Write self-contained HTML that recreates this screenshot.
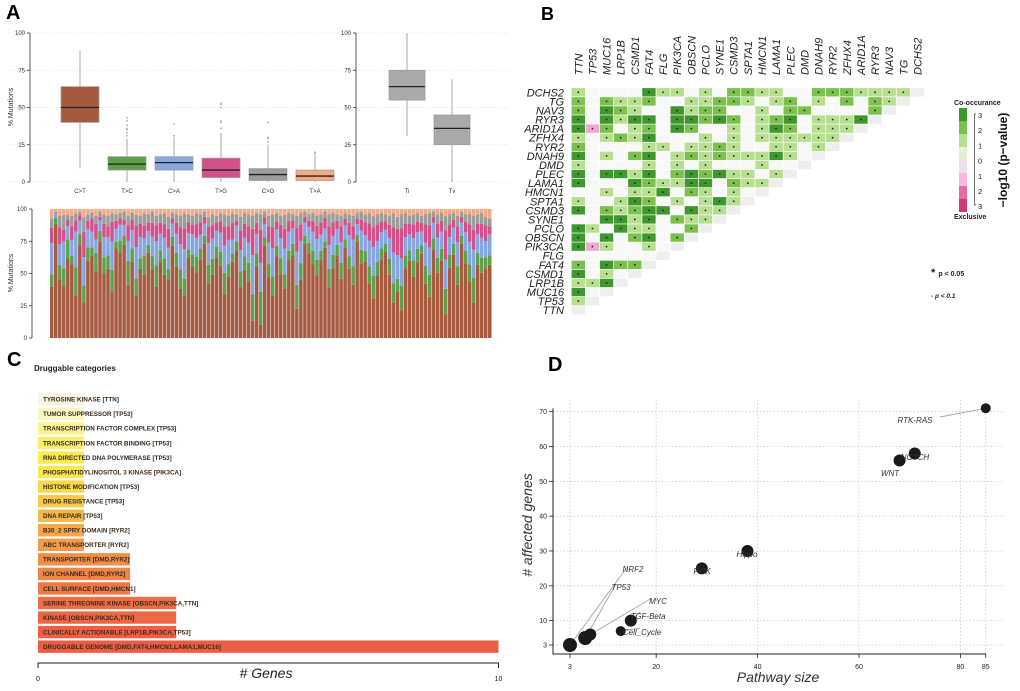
<!DOCTYPE html>
<html><head><meta charset="utf-8">
<style>
html,body{margin:0;padding:0;background:#fff;}
svg{display:block;font-family:"Liberation Sans",sans-serif;}
</style></head>
<body>
<svg id="fig" width="1020" height="691" viewBox="0 0 1020 691" xmlns="http://www.w3.org/2000/svg">
<g id="pA"></g>
<g id="pB"></g>
<g id="pC"></g>
<g id="pD"></g>
</svg>
<script>
// ---------- Panel A data ----------
const boxCats = ["C>T","T>C","C>A","T>G","C>G","T>A"];
const boxLo  = [9,0,0,0,0,0];
const boxQ1  = [40,8,8,3,1,1];
const boxMed = [50,12,13,8,5,4];
const boxQ3  = [64,17,17,16,9,8];
const boxHi  = [88,29,30,33,25,18];
const boxOut = [[],[31,33,35,36,38,41,43],[31,39],[36,40,41,50,52,53],[27,29,30,40],[19,20]];
const tiCats = ["Ti","Tv"];
const tiLo=[31,0], tiQ1=[55,25], tiMed=[64,36], tiQ3=[75,45], tiHi=[100,69];
const ctVals=[33,88,42,35,60,55,30,72,25,58,62,50,75,48,52,33,68,65,70,40,58,30,52,45,62,50,38,55,46,44,70,52,35,28,60,54,48,58,70,40,47,60,52,32,46,55,68,38,50,42,13,52,10,68,45,30,60,48,35,58,64,22,42,70,65,55,48,58,70,38,52,62,45,66,50,40,70,55,58,38,28,45,58,62,48,25,35,20,52,58,44,55,60,42,30,66,48,58,20,55,62,40,70,58,40,25,55,48,52,55];
const tcVals=[8,5,10,12,15,6,20,8,12,10,6,14,8,12,10,15,5,9,7,18,10,12,8,14,6,10,16,9,12,8,7,10,14,12,6,9,11,8,6,14,12,8,10,16,9,6,7,12,10,14,20,9,25,6,10,14,8,12,10,7,9,18,12,6,8,10,12,7,5,14,10,8,12,6,9,14,5,10,8,12,16,10,8,6,12,14,10,18,9,8,12,10,6,14,16,8,11,9,22,10,8,14,6,10,12,18,9,11,8,7];
const caVals=[20,3,15,18,10,12,25,10,20,14,12,10,8,15,14,20,10,12,8,15,14,22,16,12,10,14,18,12,15,16,10,14,18,20,12,15,14,10,9,16,15,12,14,20,18,10,12,16,14,15,30,14,22,10,16,20,12,15,18,14,12,25,16,10,12,14,16,12,10,18,14,12,16,10,15,20,8,14,12,18,20,15,12,10,16,22,18,20,14,12,16,12,10,18,20,12,15,13,25,14,12,18,10,14,16,20,14,15,12,16];
const tgVals=[10,0,12,8,5,10,8,4,18,6,10,12,3,10,8,14,6,5,4,12,8,15,10,9,6,10,12,8,10,14,4,8,12,14,8,7,10,9,5,12,10,6,8,14,10,12,4,15,10,12,20,8,25,5,12,15,6,10,14,8,6,18,12,4,5,8,10,9,8,14,10,6,12,5,9,10,4,8,10,12,14,12,8,6,10,18,20,22,10,8,10,8,6,14,16,4,10,8,25,10,6,12,4,8,12,14,8,10,12,6];
const cgVals=[6,2,8,10,4,8,5,3,10,5,4,6,4,7,8,6,5,4,6,7,5,8,6,9,6,8,7,6,8,9,4,6,8,10,6,7,8,6,4,7,8,5,6,9,8,7,5,10,8,9,10,7,12,4,8,9,6,7,10,6,5,9,8,4,5,6,8,6,5,9,7,5,8,4,6,8,4,6,6,7,8,7,6,5,7,10,9,10,8,6,7,6,5,8,9,4,7,6,12,8,5,8,4,6,8,10,7,8,6,6];
const taVals=[6,2,5,4,4,5,3,2,6,4,3,5,2,4,5,3,4,3,2,5,3,4,5,3,4,2,5,4,3,6,3,4,5,3,4,5,3,4,2,6,4,5,3,4,5,3,4,6,3,4,5,3,4,2,5,4,3,5,4,3,4,5,3,2,4,3,5,4,2,4,3,4,5,3,4,5,3,2,4,3,5,4,3,4,5,3,6,4,3,5,4,3,5,4,3,2,4,3,6,4,3,5,2,4,3,5,4,3,6,7];
const yTicksA=[0,25,50,75,100];

// ---------- Panel B data ----------
const genes=["TTN","TP53","MUC16","LRP1B","CSMD1","FAT4","FLG","PIK3CA","OBSCN","PCLO","SYNE1","CSMD3","SPTA1","HMCN1","LAMA1","PLEC","DMD","DNAH9","RYR2","ZFHX4","ARID1A","RYR3","NAV3","TG","DCHS2"];
const heatRows=["100003110102211002221111","20211200112210120102021","2032100312200102200002","303133033232012301113","3p201203200101320111","1012130001010111111","200001101121001101","30102301212111310","1000010101000100","303313023231101","30003211330211","0010113021010","100132010131","30212330311","0033130211","310311002","30302302","3p10010","000000","20322","3010","113","30","1",""];
const legendLabels=["3","2","1","0","1","2","3"];

// ---------- Panel C data ----------
const drugCats=["TYROSINE KINASE [TTN]","TUMOR SUPPRESSOR [TP53]","TRANSCRIPTION FACTOR COMPLEX [TP53]","TRANSCRIPTION FACTOR BINDING [TP53]","RNA DIRECTED DNA POLYMERASE [TP53]","PHOSPHATIDYLINOSITOL 3 KINASE [PIK3CA]","HISTONE MODIFICATION [TP53]","DRUG RESISTANCE [TP53]","DNA REPAIR [TP53]","B30_2 SPRY DOMAIN [RYR2]","ABC TRANSPORTER [RYR2]","TRANSPORTER [DMD,RYR2]","ION CHANNEL [DMD,RYR2]","CELL SURFACE [DMD,HMCN1]","SERINE THREONINE KINASE [OBSCN,PIK3CA,TTN]","KINASE [OBSCN,PIK3CA,TTN]","CLINICALLY ACTIONABLE [LRP1B,PIK3CA,TP53]","DRUGGABLE GENOME [DMD,FAT4,HMCN1,LAMA1,MUC16]"];
const drugVals=[1,1,1,1,1,1,1,1,1,1,1,2,2,2,3,3,3,10];

// ---------- Panel D data ----------
const pathNames=["RTK-RAS","NOTCH","WNT","Hippo","PI3K","TGF-Beta","Cell_Cycle","MYC","TP53","NRF2"];
const pathSize=[85,71,68,38,29,15,13,7,6,3];
const pathGenes=[71,58,56,30,25,10,7,6,5,3];
const xTicksD=[3,20,40,60,80,85];
const yTicksD=[3,10,20,30,40,50,60,70];

const NS="http://www.w3.org/2000/svg";
function mk(parent,tag,attrs,text){const e=document.createElementNS(NS,tag);for(const k in attrs)e.setAttribute(k,attrs[k]);if(text!==undefined)e.textContent=text;parent.appendChild(e);return e;}

// ================= PANEL A =================
(function(){
const g=document.getElementById('pA');
let t=mk(g,'text',{x:6,y:19,'font-size':20,'font-weight':'bold'},'A');


const yA=v=>182-v*1.49;
yTicksA.forEach(v=>{
  let l=mk(g,'line',{x1:5,x2:342,y1:yA(v),y2:yA(v),stroke:'#ddd','stroke-dasharray':'1,2','stroke-width':0.7});
  
  
  let l2=mk(g,'line',{x1:348,x2:510,y1:yA(v),y2:yA(v),stroke:'#ddd','stroke-dasharray':'1,2','stroke-width':0.7});
  
  
  [[30,'a1'],[356,'a2']].forEach(([ax,n])=>{
    let tk=mk(g,'line',{x1:ax-3,x2:ax,y1:yA(v),y2:yA(v),stroke:'#333','stroke-width':0.8});
    
    
    let tl=mk(g,'text',{x:ax-5,y:yA(v)+2,'font-size':6,'text-anchor':'end',fill:'#333'},v);
    
    
  });
});
[30,356].forEach(ax=>{
  let a=mk(g,'line',{x1:ax,x2:ax,y1:yA(100),y2:yA(0),stroke:'#333','stroke-width':0.8});
  
  
});
let yt=mk(g,'text',{x:0,y:0,'font-size':7,'text-anchor':'middle',transform:'translate(13,107) rotate(-90)',fill:'#333'},'% Mutations');


const cols=['#a65a40','#5fa04b','#87a6de','#d4508b','#9a9d9a','#f7a985'];
function box(cx,w,lo,q1,md,q3,hi,col,outs,lab,name){
  const bg=mk(g,'g',{});
  
  
  mk(bg,'line',{x1:cx,x2:cx,y1:yA(hi),y2:yA(lo),stroke:'#aaa','stroke-width':1});
  mk(bg,'rect',{x:cx-w/2,y:yA(q3),width:w,height:yA(q1)-yA(q3),fill:col,stroke:'#999','stroke-width':0.7});
  mk(bg,'line',{x1:cx-w/2,x2:cx+w/2,y1:yA(md),y2:yA(md),stroke:'#222','stroke-width':1.3});
  outs.forEach(o=>mk(bg,'circle',{cx:cx,cy:yA(o),r:0.8,fill:'#999'}));
  let tl=mk(g,'text',{x:cx,y:193,'font-size':6,'text-anchor':'middle',fill:'#333'},lab);
  
  
}
boxCats.forEach((c,i)=>box(80+i*47,38,boxLo[i],boxQ1[i],boxMed[i],boxQ3[i],boxHi[i],cols[i],boxOut[i],c,c.replace('>','-')));
tiCats.forEach((c,i)=>box(407+i*45,36,tiLo[i],tiQ1[i],tiMed[i],tiQ3[i],tiHi[i],'#aaa',[],c,c));
const yS=v=>338-v*1.29;
const n=ctVals.length, x0=50, bw=442/n;
yTicksA.forEach(v=>{
  let tk=mk(g,'line',{x1:29,x2:32,y1:yS(v),y2:yS(v),stroke:'#333','stroke-width':0.8});
  
  
  let tl=mk(g,'text',{x:27,y:yS(v)+2,'font-size':6,'text-anchor':'end',fill:'#333'},v);
  
  
});
let sa=mk(g,'line',{x1:32,x2:32,y1:yS(100),y2:yS(0),stroke:'#333','stroke-width':0.8});


let yt2=mk(g,'text',{x:0,y:0,'font-size':7,'text-anchor':'middle',transform:'translate(13,273) rotate(-90)',fill:'#333'},'% Mutations');


const series=[ctVals,tcVals,caVals,tgVals,cgVals,taVals];
for(let i=0;i<n;i++){
  let acc=0;
  const segs=series.map(s=>s[i]);
  const total=segs.reduce((a,b)=>a+b,0);
  const vals=segs.map(v=>v*100/total);
  vals.forEach((v,k)=>{
    let r=mk(g,'rect',{x:x0+i*bw,y:yS(acc+v),width:bw-0.5,height:v*1.29,fill:cols[k]});
    
    
    acc+=v;
  });
}
})();

// ================= PANEL B =================
(function(){
const g=document.getElementById('pB');
let t=mk(g,'text',{x:541,y:20,'font-size':18,'font-weight':'bold'},'B');


const cx=j=>578.3+j*14.13, cy=i=>92.3+i*9.08;
const colMap={'1':'#b6df8f','2':'#7cc14d','3':'#3f982e','p':'#f1a9d4','0':'#f8f8f8'};
genes.forEach((gn,j)=>{
  let l=mk(g,'text',{x:0,y:0,'font-size':11,'font-style':'italic',fill:'#222',transform:`translate(${cx(j)+4},75) rotate(-90)`},gn);
  
  
});
heatRows.forEach((row,i)=>{
  const gn=genes[24-i];
  let l=mk(g,'text',{x:564,y:cy(i)+4,'font-size':11,'font-style':'italic','text-anchor':'end',fill:'#222'},gn);
  
  
  for(let j=0;j<=row.length;j++){
    const ch=j<row.length?row[j]:'d';
    let r=mk(g,'rect',{x:cx(j)-6.7,y:cy(i)-4.2,width:13.4,height:8.4,fill:ch==='d'?'#eeeeee':colMap[ch]});
    
    
    if(ch!=='0'&&ch!=='d'){
      let d=mk(g,'circle',{cx:cx(j),cy:cy(i),r:0.9,fill:'#222'});
      
      
    }
  }
});
const lc=['#3f982e','#7cc14d','#b6df8f','#e3f0d8','#ebe0ee','#f4b9dc','#e56aa7','#cc3a77'];
lc.forEach((c,k)=>{
  let r=mk(g,'rect',{x:959,y:108+k*13,width:8,height:13,fill:c});
  
  
});
let lt=mk(g,'text',{x:954,y:105,'font-size':7,'font-weight':'bold',fill:'#222'},'Co-occurance');


let le=mk(g,'text',{x:954,y:219,'font-size':7,'font-weight':'bold',fill:'#222'},'Exclusive');


let br=mk(g,'path',{d:'M976,114 h-1.5 V205 h1.5',stroke:'#333',fill:'none','stroke-width':0.7});


legendLabels.forEach((s,k)=>{
  let l=mk(g,'text',{x:978,y:118+k*15.2,'font-size':7.5,fill:'#222'},s);
  
  
});
let ttl=mk(g,'text',{x:0,y:0,'font-size':12,'font-weight':'bold','text-anchor':'middle',fill:'#111',transform:'translate(1007,160) rotate(-90)'},'−log10 (p−value)');


let p1=mk(g,'text',{x:931,y:276,'font-size':7,'font-weight':'bold',fill:'#222'},'');


mk(p1,'tspan',{'font-size':11},'* ');mk(p1,'tspan',{},'p < 0.05');
let p2=mk(g,'text',{x:931,y:298,'font-size':6.5,'font-style':'italic','font-weight':'bold',fill:'#222'},'- p < 0.1');


})();

// ================= PANEL C =================
(function(){
const g=document.getElementById('pC');
let t=mk(g,'text',{x:7,y:366,'font-size':20,'font-weight':'bold'},'C');


let st=mk(g,'text',{x:34,y:371,'font-size':8,'font-weight':'bold',fill:'#222'},'Druggable categories');


const xs=v=>38+v*46.05;
const cc=['#f6f6e2','#faf8c2','#f9f390','#f8ef6c','#f9ec52','#f9e652','#f9d84a','#f8c94b','#f6b74a','#f5a84a','#f49b49','#f28f47','#f08346','#ef7846','#ee6e46','#ed6646','#ec5f45','#eb5d45'];
drugCats.forEach((c,i)=>{
  const y=399.3+i*14.55;
  let r=mk(g,'rect',{x:xs(0),y:y-6.2,width:xs(drugVals[i])-xs(0),height:12.4,fill:cc[i]});
  
  
  let l=mk(g,'text',{x:43,y:y+2.3,'font-size':6.3,'font-weight':'bold',fill:'#3a2a1a'},c);
  
  
});
let ax=mk(g,'path',{d:`M${xs(0)},668 V663 H${xs(10)} V668`,stroke:'#222',fill:'none','stroke-width':1});


[0,10].forEach(v=>{
  let l=mk(g,'text',{x:xs(v),y:681,'font-size':7,'text-anchor':'middle',fill:'#222'},v);
  
  
});
let xt=mk(g,'text',{x:266,y:678,'font-size':14,'font-style':'italic','text-anchor':'middle',fill:'#222'},'# Genes');


})();

// ================= PANEL D =================
(function(){
const g=document.getElementById('pD');
let t=mk(g,'text',{x:548,y:371,'font-size':20,'font-weight':'bold'},'D');


const xs=v=>570+(v-3)*5.07, ys=v=>645-(v-3)*3.482;
xTicksD.forEach(v=>{
  let l=mk(g,'line',{x1:xs(v),x2:xs(v),y1:400,y2:654,stroke:'#ccc','stroke-dasharray':'1.5,2','stroke-width':0.8});
  
  
  mk(g,'line',{x1:xs(v),x2:xs(v),y1:654,y2:658,stroke:'#222','stroke-width':0.8});
  let tl=mk(g,'text',{x:xs(v),y:669,'font-size':7,'text-anchor':'middle',fill:'#222'},v);
  
  
});
yTicksD.forEach(v=>{
  let l=mk(g,'line',{x1:553,x2:1003,y1:ys(v),y2:ys(v),stroke:'#ccc','stroke-dasharray':'1.5,2','stroke-width':0.8});
  
  
  mk(g,'line',{x1:549,x2:553,y1:ys(v),y2:ys(v),stroke:'#222','stroke-width':0.8});
  let tl=mk(g,'text',{x:547,y:ys(v)+2.5,'font-size':7,'text-anchor':'end',fill:'#222'},v);
  
  
});
let ax=mk(g,'path',{d:`M553,${ys(71)} V654 H${xs(85)}`,stroke:'#222',fill:'none','stroke-width':1});


let xt=mk(g,'text',{x:778,y:682,'font-size':14,'font-style':'italic','text-anchor':'middle',fill:'#333'},'Pathway size');


let ytt=mk(g,'text',{x:0,y:0,'font-size':14,'font-style':'italic','text-anchor':'middle',fill:'#333',transform:'translate(532,525) rotate(-90)'},'# affected genes');


// label layout (pixel centers, not data)
const labPos=[[915,420],[915,457],[890,473],[747,554],[702,571],[648,616],[642,632],[658,601],[621,587],[633,569]];
const leadEnd=[[940,417],[915,454],[890,470],[747,551],[702,568],[640,612],[640,628],[652,598],[616,584],[628,566]];
const rad=[5,6,6,6,6,6,5,6,7,7];
pathNames.forEach((nm,i)=>{
  if(i===0||i>=5){
    let ln=mk(g,'line',{x1:xs(pathSize[i]),y1:ys(pathGenes[i]),x2:leadEnd[i][0],y2:leadEnd[i][1],stroke:'#aaa','stroke-width':1});
    
    
  }
});
pathNames.forEach((nm,i)=>{
  let c=mk(g,'circle',{cx:xs(pathSize[i]),cy:ys(pathGenes[i]),r:rad[i],fill:'#1a1a1a'});
  
  
});
pathNames.forEach((nm,i)=>{
  let l=mk(g,'text',{x:labPos[i][0],y:labPos[i][1]+3,'font-size':8,'font-style':'italic','text-anchor':'middle',fill:'#333'},nm);
  
  
});
})();
</script>
</body></html>
